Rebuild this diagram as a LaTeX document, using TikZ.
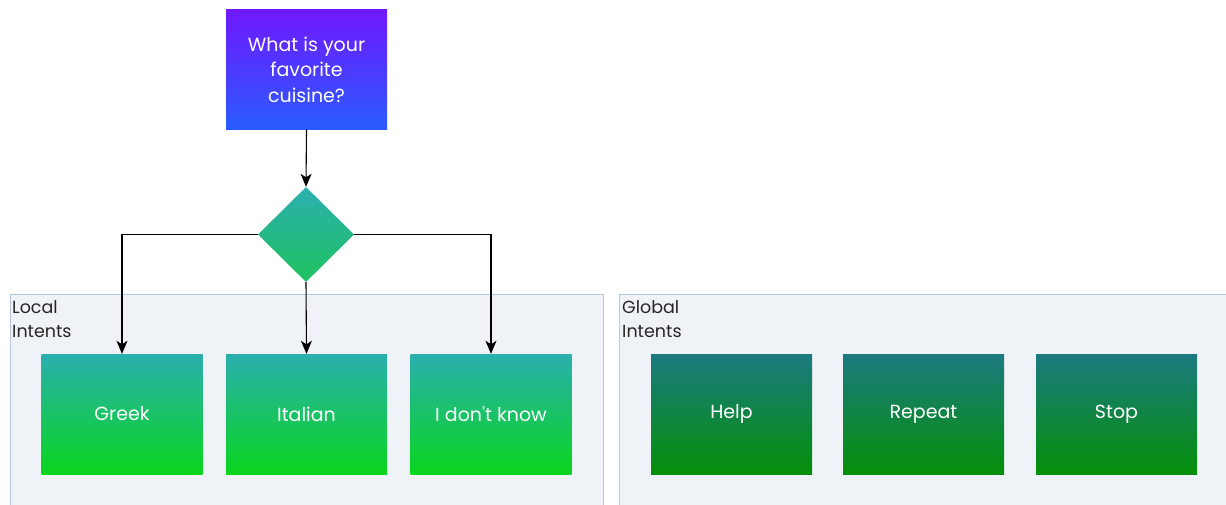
\documentclass[tikz,border=0pt]{standalone}
\usepackage{fontspec}
\setmainfont{Poppins}[Ligatures=TeXOff]
\usetikzlibrary{shapes.geometric,arrows.meta}
\definecolor{qtop}{HTML}{7018FF}
\definecolor{qbot}{HTML}{2A5CFF}
\definecolor{dtop}{HTML}{2BAFB0}
\definecolor{dbot}{HTML}{1EC25E}
\definecolor{ltop}{HTML}{2AAFAF}
\definecolor{lbot}{HTML}{09D61E}
\definecolor{gtop}{HTML}{1B7A80}
\definecolor{gbot}{HTML}{058F08}
\definecolor{panelfill}{HTML}{EFF3F7}
\definecolor{paneledge}{HTML}{B6C8DC}
\tikzset{
  panel/.style={draw=paneledge, line width=1.4pt, fill=panelfill, anchor=north west,
    inner sep=0pt},
  paneltitle/.style={anchor=north west, align=left, inner sep=0pt,
    font=\fontsize{17.5}{24}\selectfont, text=black!85},
  card/.style={minimum width=161pt, minimum height=120pt, inner sep=0pt,
    text=white, font=\fontsize{19}{25.5}\selectfont, align=center},
  question/.style={card, top color=qtop, bottom color=qbot},
  localcard/.style={card, top color=ltop, bottom color=lbot},
  globalcard/.style={card, top color=gtop, bottom color=gbot},
  choice/.style={diamond, minimum width=96pt, minimum height=95pt, inner sep=0pt,
    top color=dtop, bottom color=dbot},
  link/.style={draw=black, line width=1.1pt, -{Stealth[length=13pt,width=11pt,inset=3.5pt]}},
}
\begin{document}
\begin{tikzpicture}[x=1pt,y=-1pt]
  \useasboundingbox (0,0) rectangle (1226,505);
  \clip (0,0) rectangle (1226,505);
  \fill[white] (0,0) rectangle (1226,505);
  % intent panels
  \node[panel, minimum width=593pt, minimum height=240pt] (localpanel) at (10,294) {};
  \node[panel, minimum width=640pt, minimum height=240pt] (globalpanel) at (619,294) {};
  \node[paneltitle] (localtitle) at (12,300) {Local\\Intents};
  \node[paneltitle] (globaltitle) at (622,300) {Global\\Intents};
  % question and branching
  \node[question] (q) at (306.5,69.5) {What is your\\favorite\\cuisine?};
  \node[choice] (d) at (306,234.5) {};
  % local intents
  \node[localcard] (greek) at (122,414) {\raisebox{-2pt}{Greek}};
  \node[localcard] (italian) at (306.5,414) {\raisebox{-2pt}{Italian}};
  \node[localcard] (idk) at (491,414) {\raisebox{-2pt}{I don't know}};
  % global intents
  \node[globalcard] (help) at (731.5,414) {\raisebox{-2pt}{Help}};
  \node[globalcard] (repeat) at (923.5,414) {\raisebox{-2pt}{Repeat}};
  \node[globalcard] (stop) at (1116.5,414) {\raisebox{-2pt}{Stop}};
  % connectors
  \draw[link] (q.south) -- (d.north);
  \draw[link] (d.west) -| (greek.north);
  \draw[link] (d.south) -- (italian.north);
  \draw[link] (d.east) -| (idk.north);
\end{tikzpicture}
\end{document}
